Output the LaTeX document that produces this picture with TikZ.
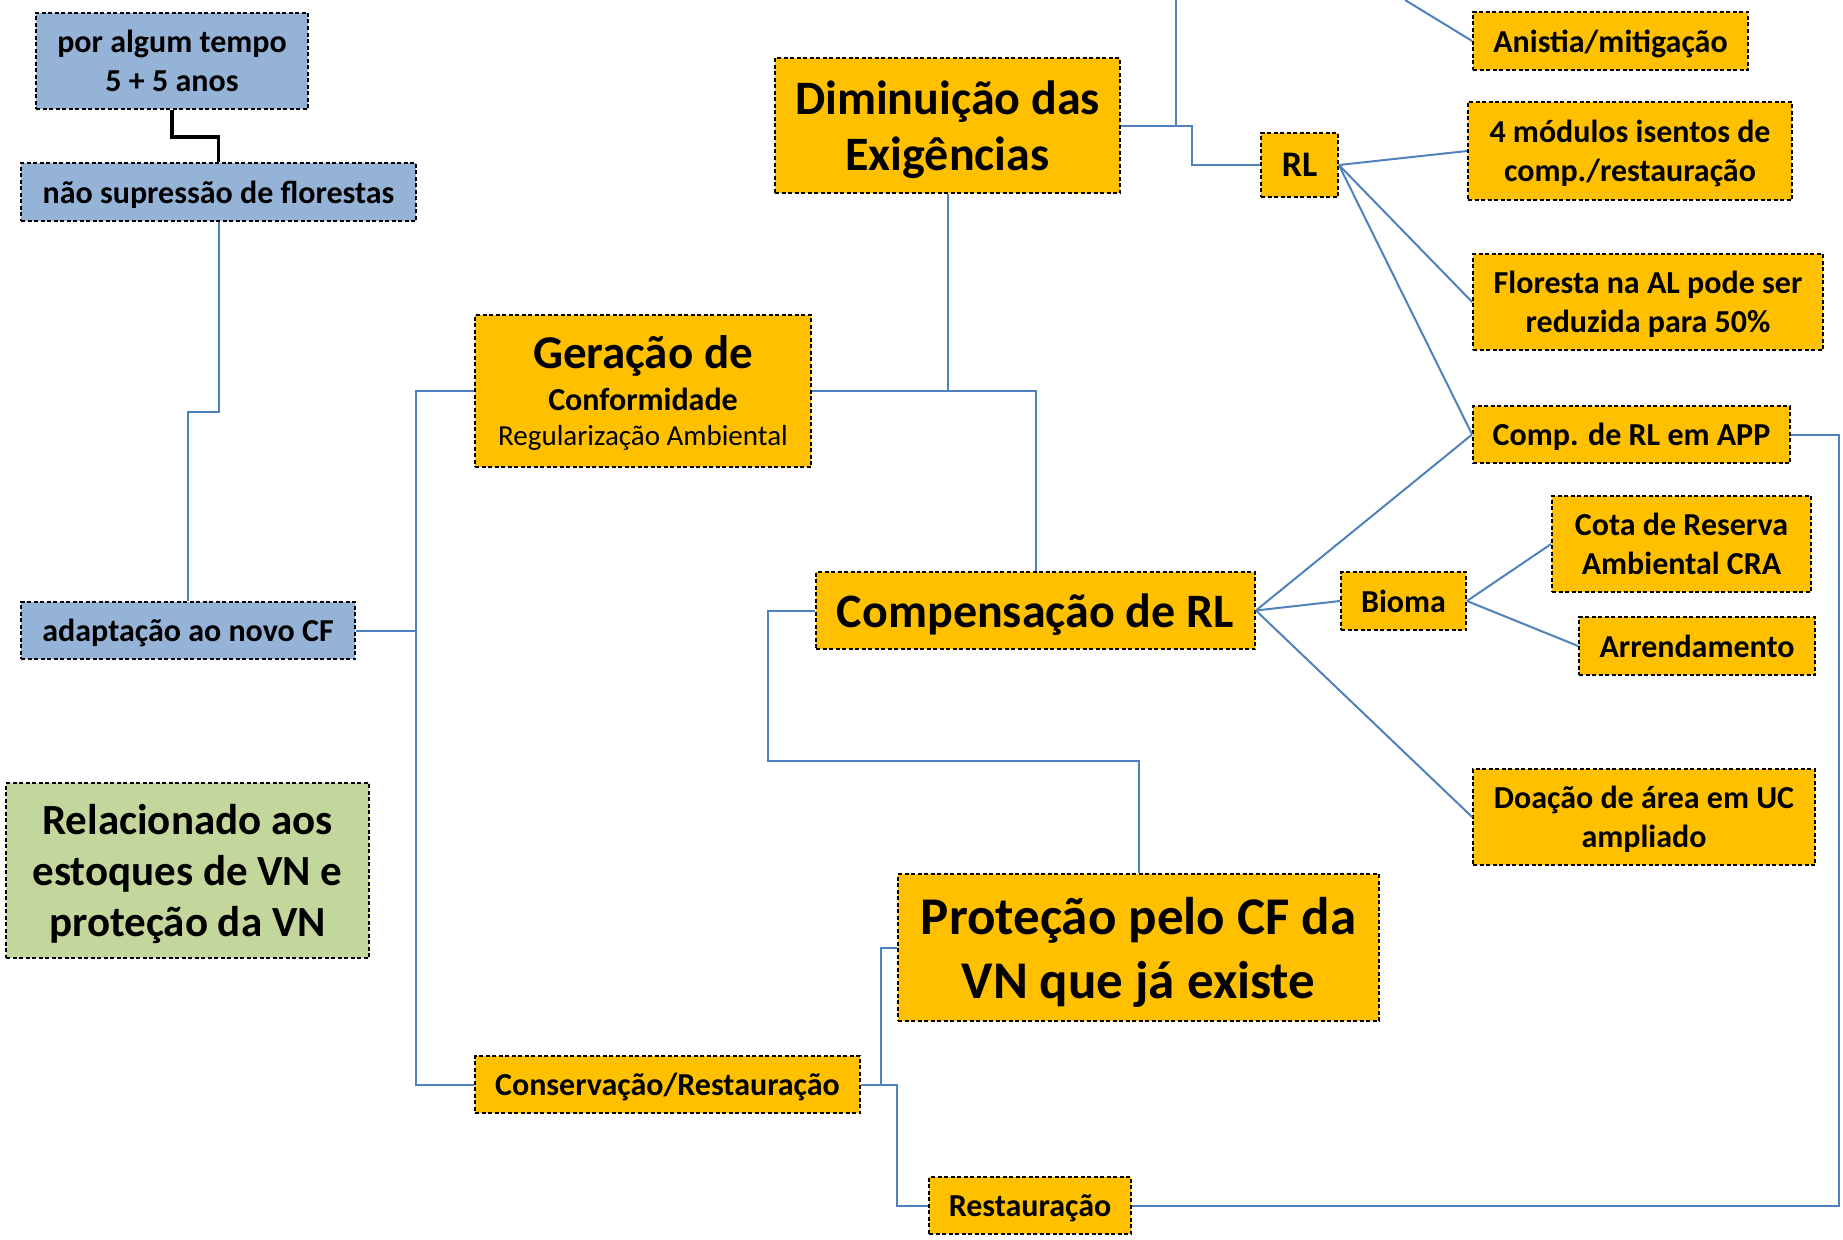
\documentclass[tikz,border=0pt]{standalone}
\usepackage{fontspec}
\setmainfont{Carlito}
\definecolor{boxorange}{HTML}{FFC000}
\definecolor{boxblue}{HTML}{95B3D7}
\definecolor{boxgreen}{HTML}{C3D69B}
\definecolor{linkblue}{HTML}{4F81BD}

\begin{document}
\begin{tikzpicture}[x=1pt,y=-1pt]
	\tikzset{box/.style={draw=black, dash pattern=on 4pt off 2.5pt, line width=1.8pt, inner sep=0pt, text depth=0pt, align=center, fill=boxorange, font=\bfseries\fontsize{32}{39}\selectfont},
		bluebox/.style={box, fill=boxblue},
		greenbox/.style={box, fill=boxgreen, font=\bfseries\fontsize{43}{51}\selectfont},
		bigbox/.style={box, font=\bfseries\fontsize{48}{56}\selectfont},
		link/.style={linkblue, line width=2pt},
		tie/.style={black, line width=3.5pt}}
	\useasboundingbox (0,0) rectangle (1843,1239);
	% \draw (0,0) grid[step=100] (1843,1239);
	\node [bluebox, minimum width=272, minimum height=96] (tempo) at (172, 61) {por algum tempo\\5 + 5 anos};
	\node [bluebox, minimum width=395, minimum height=58] (supressao) at (218.5, 192) {não supressão de florestas};
	\node [bluebox, minimum width=334, minimum height=57] (adaptacao) at (188, 630.5) {adaptação ao novo CF};
	\node [greenbox, minimum width=363, minimum height=175] (relacionado) at (187.5, 870.5) {Relacionado aos\\estoques de VN e\\proteção da VN};
	\node [box, minimum width=336, minimum height=152] (geracao) at (643, 391) {{\fontsize{47}{56}\selectfont Geração de}\\[3pt]Conformidade\\[-4pt]{\mdseries\fontsize{29}{36}\selectfont Regularização Ambiental}};
	\node [bigbox, minimum width=345, minimum height=135] (diminuicao) at (947.5, 125.5) {Diminuição das\\Exigências};
	\node [box, minimum width=77, minimum height=64, font=\bfseries\fontsize{36}{42}\selectfont] (rl) at (1299.5, 165) {RL};
	\node [box, minimum width=275, minimum height=58] (anistia) at (1610.5, 41) {Anistia/mitigação};
	\node [box, minimum width=324, minimum height=98] (modulos) at (1630, 151) {4 módulos isentos de\\comp./restauração};
	\node [box, minimum width=350, minimum height=96] (floresta) at (1648, 302) {Floresta na AL pode ser\\reduzida para 50\%};
	\node [box, minimum width=317, minimum height=57] (app) at (1631.5, 434.5) {Comp. de RL em APP};
	\node [box, minimum width=259, minimum height=96] (cota) at (1681.5, 544) {Cota de Reserva\\Ambiental CRA};
	\node [box, minimum width=236, minimum height=58] (arrendamento) at (1697, 646) {Arrendamento};
	\node [box, minimum width=125, minimum height=58] (bioma) at (1403.5, 601) {Bioma};
	\node [bigbox, minimum width=439, minimum height=77] (compensacao) at (1035.5, 610.5) {Compensação de RL};
	\node [box, minimum width=342, minimum height=96] (doacao) at (1644, 817) {Doação de área em UC\\ampliado};
	\node [box, minimum width=481, minimum height=147, font=\bfseries\fontsize{53}{64}\selectfont] (protecao) at (1138.5, 947.5) {Proteção pelo CF da\\VN que já existe};
	\node [box, minimum width=385, minimum height=57] (conservacao) at (667.5, 1084.5) {Conservação/Restauração};
	\node [box, minimum width=202, minimum height=57] (restauracao) at (1030, 1205.5) {Restauração};
	\coordinate (topo) at (1176, 0);
	\coordinate (topo2) at (1405, 0);
	\coordinate (volta) at (768, 761);

	\draw [tie] (tempo.south) -- ++(0,27) -| (supressao.north);
	\draw [link] (supressao.south) -- ++(0,190) -| (adaptacao.north);
	\draw [link] (adaptacao.east) -- ++(60,0) |- (geracao.west);
	\draw [link] (adaptacao.east) -- ++(60,0) |- (conservacao.west);
	\draw [link] (geracao.east) -| (diminuicao.south);
	\draw [link] (geracao.east) -| (compensacao.north);
	\draw [link] (diminuicao.east) -| (topo);
	\draw [link] (diminuicao.east) -- ++(71,0) |- (rl.west);
	\draw [link] (topo2) -- (anistia.west);
	\draw [link] (rl.east) -- (modulos.west);
	\draw [link] (rl.east) -- (floresta.west);
	\draw [link] (rl.east) -- (app.west);
	\draw [link] (compensacao.east) -- (app.west);
	\draw [link] (compensacao.east) -- (bioma.west);
	\draw [link] (compensacao.east) -- (doacao.west);
	\draw [link] (bioma.east) -- (cota.west);
	\draw [link] (bioma.east) -- (arrendamento.west);
	\draw [link] (compensacao.west) -| (volta) -| (protecao.north);
	\draw [link] (conservacao.east) -- ++(20,0) |- (protecao.west);
	\draw [link] (conservacao.east) -- ++(36,0) |- (restauracao.west);
	\draw [link] (restauracao.east) -- ++(707,0) |- (app.east);
\end{tikzpicture}
\end{document}
